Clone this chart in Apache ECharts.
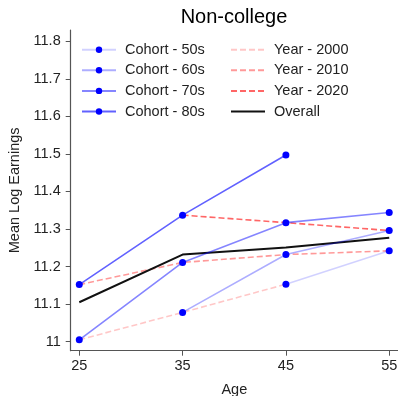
<!DOCTYPE html>
<html>
<head>
<meta charset="utf-8">
<script src="https://cdn.jsdelivr.net/npm/echarts@6/dist/echarts.min.js"></script>
<style>
  html, body { margin: 0; padding: 0; background: #fff; }
  #chart { width: 398px; height: 396px; }
</style>
</head>
<body>
<div id="chart"></div>
<script>
// Mean log earnings of non-college workers by age, traced by birth cohort and by calendar year
const ages = [25, 35, 45, 55];
const ageTicks = [25, 35, 45, 55];
const earnTicks = [11.0, 11.1, 11.2, 11.3, 11.4, 11.5, 11.6, 11.7, 11.8];

const cohort50s = [null, null, 11.153, 11.242];
const cohort60s = [null, 11.078, 11.232, 11.296];
const cohort70s = [11.005, 11.211, 11.317, 11.344];
const cohort80s = [11.152, 11.337, 11.497, null];

const year2000 = [11.005, 11.078, 11.153, null];
const year2010 = [11.152, 11.211, 11.232, 11.242];
const year2020 = [null, 11.337, 11.317, 11.296];

const overall = [11.105, 11.232, 11.251, 11.277];

const FONT = '"Liberation Sans", Arial, Helvetica, sans-serif';
const FS = 14.5;

function pairs(values) {
  const out = [];
  values.forEach((v, i) => { if (v !== null) out.push([ages[i], v]); });
  return out;
}

function cohortSeries(name, values, alpha) {
  return {
    name: name,
    type: 'line',
    data: pairs(values),
    symbol: 'circle',
    symbolSize: 7,
    itemStyle: { color: '#0000ff', opacity: 1 },
    lineStyle: { color: 'rgba(0,0,255,' + alpha + ')', width: 1.6 },
    z: 3
  };
}

// plain line series: the marker is kept but fully transparent so the legend shows only the stroke
function plainSeries(name, values, color, dash, width, z) {
  return {
    name: name,
    type: 'line',
    data: pairs(values),
    symbol: 'circle',
    showSymbol: false,
    itemStyle: { color: color, opacity: 0 },
    lineStyle: { color: color, width: width, type: dash },
    z: z
  };
}

const chart = echarts.init(document.getElementById('chart'), null, { renderer: 'canvas' });

const legendText = { fontFamily: FONT, fontSize: FS, color: '#222', lineHeight: 16, padding: [0, 0, 0, 4] };

function legendColumn(names, left) {
  return {
    data: names,
    orient: 'vertical',
    left: left,
    top: 41.7,
    padding: 0,
    itemWidth: 34,
    itemHeight: 8,
    itemGap: 4.6,
    textStyle: legendText
  };
}

chart.setOption({
  animation: false,
  backgroundColor: '#fff',
  title: {
    text: 'Non-college',
    left: 234,
    textAlign: 'center',
    top: 5,
    padding: 0,
    textStyle: { fontFamily: FONT, fontSize: 20, fontWeight: 'normal', color: '#000', lineHeight: 24 }
  },
  legend: [
    legendColumn(['Cohort - 50s', 'Cohort - 60s', 'Cohort - 70s', 'Cohort - 80s'], 81),
    legendColumn(['Year - 2000', 'Year - 2010', 'Year - 2020', 'Overall'], 230)
  ],
  grid: { left: 70.7, right: 0, top: 30, bottom: 45.3, containLabel: false, outerBoundsMode: 'none' },
  xAxis: {
    type: 'value',
    min: 24.17,
    max: 55.85,
    name: 'Age',
    nameLocation: 'middle',
    nameGap: 32,
    nameTextStyle: { fontFamily: FONT, fontSize: FS, color: '#222' },
    axisLine: { show: true, lineStyle: { color: '#555', width: 1.2 } },
    axisTick: { show: true, length: 5, customValues: ageTicks, lineStyle: { color: '#555' } },
    axisLabel: { customValues: ageTicks, margin: 8, fontFamily: FONT, fontSize: FS, color: '#222' },
    splitLine: { show: false }
  },
  yAxis: {
    type: 'value',
    min: 10.976,
    max: 11.83,
    name: 'Mean Log Earnings',
    nameLocation: 'middle',
    nameGap: 45,
    nameTextStyle: { fontFamily: FONT, fontSize: FS, color: '#222' },
    axisLine: { show: true, lineStyle: { color: '#555', width: 1.2 } },
    axisTick: { show: true, length: 5, customValues: earnTicks, lineStyle: { color: '#555' } },
    axisLabel: {
      customValues: earnTicks,
      margin: 10,
      fontFamily: FONT,
      fontSize: FS,
      color: '#222',
      formatter: v => (Math.abs(v - 11) < 1e-9 ? '11' : v.toFixed(1))
    },
    splitLine: { show: false }
  },
  series: [
    cohortSeries('Cohort - 50s', cohort50s, 0.18),
    cohortSeries('Cohort - 60s', cohort60s, 0.32),
    cohortSeries('Cohort - 70s', cohort70s, 0.48),
    cohortSeries('Cohort - 80s', cohort80s, 0.62),
    plainSeries('Year - 2000', year2000, 'rgba(255,0,0,0.22)', [6, 3], 1.6, 2),
    plainSeries('Year - 2010', year2010, 'rgba(255,0,0,0.4)', [6, 3], 1.6, 2),
    plainSeries('Year - 2020', year2020, 'rgba(255,0,0,0.6)', [6, 3], 1.6, 2),
    plainSeries('Overall', overall, '#111', 'solid', 2, 2)
  ]
});
</script>
</body>
</html>
